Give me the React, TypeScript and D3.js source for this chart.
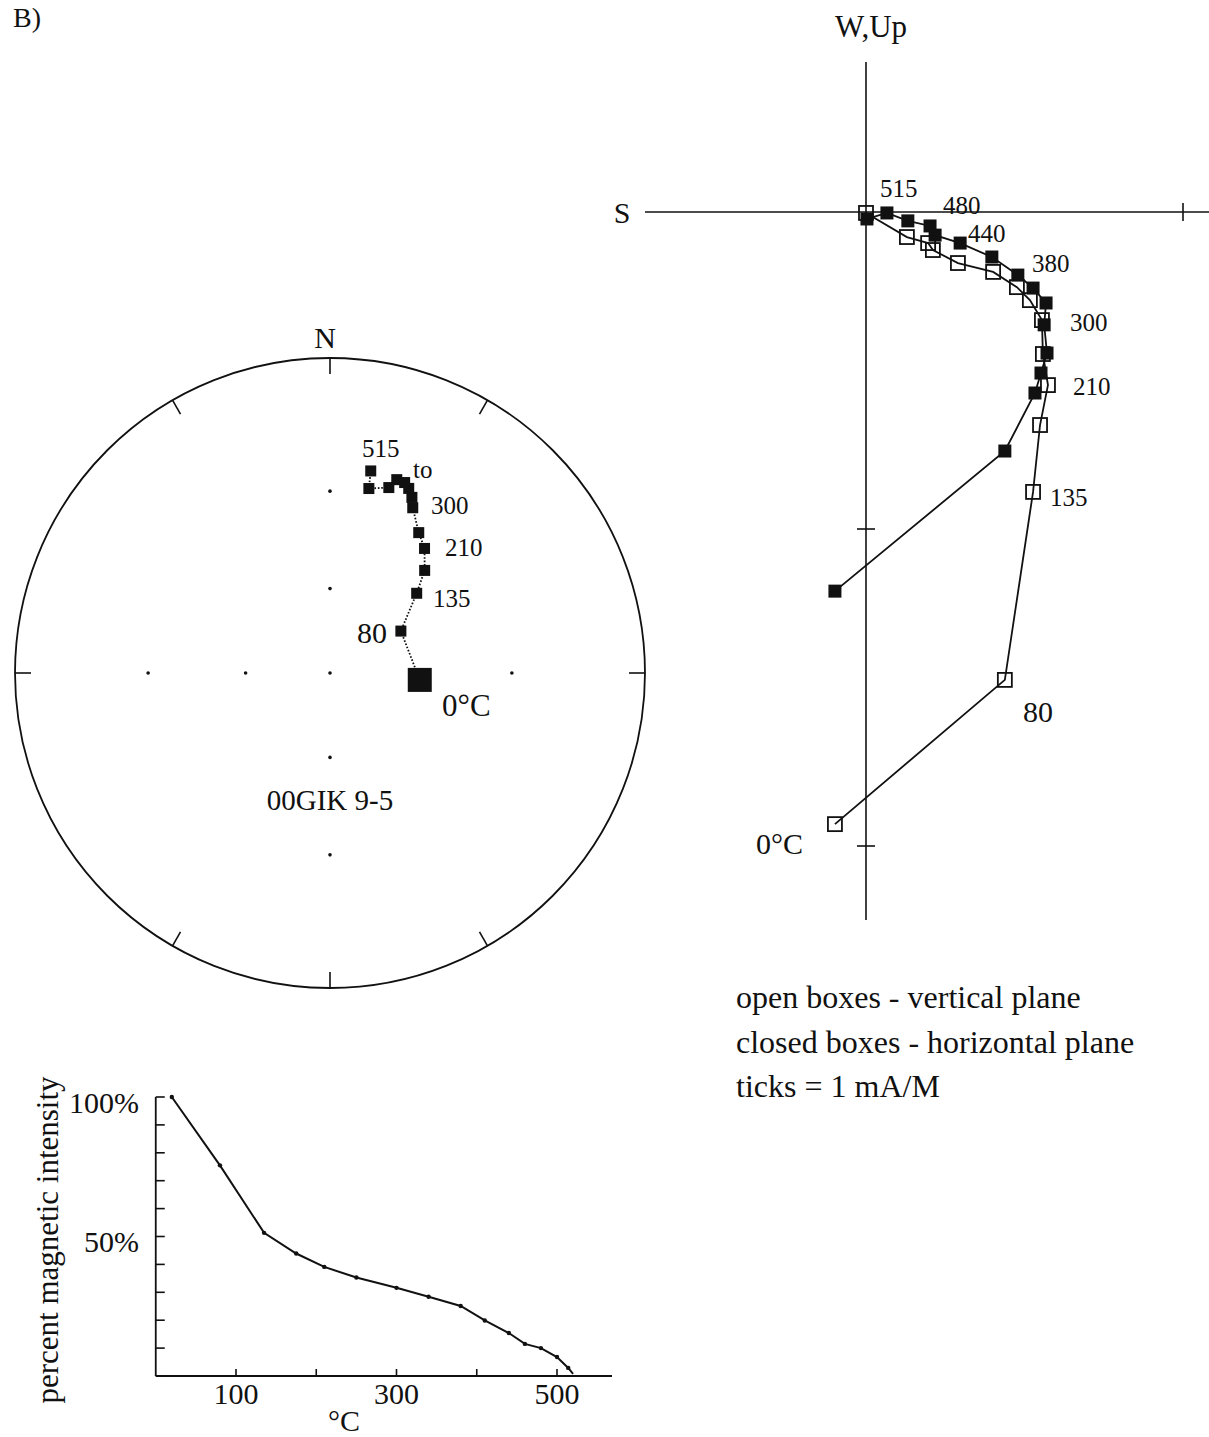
import React from "react";
import * as d3 from "d3";

// ---- Zijderveld diagram data (mA/m) ----
// closed boxes: horizontal plane (North vs West)
const horizNorth = [-0.098, 0.438, 0.533, 0.552, 0.571, 0.562, 0.568, 0.527, 0.479, 0.397, 0.297, 0.218, 0.202, 0.132, 0.066, 0.003];
const horizWest = [-1.196, -0.754, -0.571, -0.508, -0.445, -0.356, -0.287, -0.24, -0.199, -0.142, -0.098, -0.073, -0.044, -0.028, -0.003, -0.022];
// open boxes: vertical plane (North vs Up)
const vertNorth = [-0.098, 0.438, 0.527, 0.549, 0.574, 0.558, 0.555, 0.517, 0.476, 0.401, 0.29, 0.211, 0.196, 0.129, 0.0];
const vertUp = [-1.931, -1.476, -0.883, -0.672, -0.546, -0.448, -0.341, -0.278, -0.237, -0.189, -0.161, -0.12, -0.098, -0.079, -0.003];
const zijNorthTicks = [1];
const zijUpTicks = [-1, -2];

// ---- equal-angle stereonet data (declination, inclination in degrees) ----
const stereoDec = [94.4, 59.4, 47.4, 42.7, 37.2, 32.3, 26.6, 25.0, 23.1, 21.4, 19.05, 17.6, 11.9, 11.4];
const stereoInc = [58.1, 60.7, 49.0, 42.2, 37.2, 34.4, 29.2, 26.8, 25.0, 24.0, 24.0, 26.6, 28.2, 23.6];
const gridDec = [0, 90, 180, 270];
const gridInc = [60, 30];
const rimTicks = [0, 30, 90, 150, 180, 210, 270, 330];

// ---- demagnetisation intensity curve ----
const intTemp = [20, 80, 135, 175, 210, 250, 300, 340, 380, 410, 440, 460, 480, 500, 514, 520];
const intPct = [100, 75.5, 51.3, 43.9, 39.1, 35.3, 31.6, 28.4, 25.1, 19.9, 15.4, 11.5, 10.0, 6.8, 2.9, 0.8];
const tempTicks = [100, 200, 300, 400, 500];
const tempTickLabels = ["100", "", "300", "", "500"];
const pctTicks = [0, 10, 20, 30, 40, 50, 60, 70, 80, 90, 100];
const pctTickLabels: Record<number, string> = { 100: "100%", 50: "50%" };

const FONT = "'Liberation Serif', 'Times New Roman', serif";

function Square({ x, y, s, filled }: { x: number; y: number; s: number; filled: boolean }) {
  return (
    <rect
      x={x - s / 2}
      y={y - s / 2}
      width={s}
      height={s}
      fill={filled ? "#111" : "none"}
      stroke="#111"
      strokeWidth={filled ? 0 : 1.8}
    />
  );
}

function Zijderveld() {
  const x = d3.scaleLinear().domain([0, 1]).range([866, 1183]);
  const y = d3.scaleLinear().domain([0, -1]).range([212, 529]);
  const horiz = horizNorth.map((n, i) => [x(n), y(horizWest[i])] as [number, number]);
  const vert = vertNorth.map((n, i) => [x(n), y(vertUp[i])] as [number, number]);
  const line = d3.line();
  const t = { fontFamily: FONT, fill: "#111" } as const;
  return (
    <g>
      <line x1={645} x2={1209} y1={y(0)} y2={y(0)} stroke="#111" strokeWidth={1.6} />
      <line x1={x(0)} x2={x(0)} y1={62} y2={920} stroke="#111" strokeWidth={1.6} />
      {zijNorthTicks.map((v) => (
        <line key={v} x1={x(v)} x2={x(v)} y1={y(0) - 9} y2={y(0) + 9} stroke="#111" strokeWidth={1.6} />
      ))}
      {zijUpTicks.map((v) => (
        <line key={v} x1={x(0) - 9} x2={x(0) + 9} y1={y(v)} y2={y(v)} stroke="#111" strokeWidth={1.6} />
      ))}
      <path d={line(vert) || ""} fill="none" stroke="#111" strokeWidth={1.8} />
      <path d={line(horiz) || ""} fill="none" stroke="#111" strokeWidth={1.8} />
      {horiz.map(([px, py], i) => (
        <Square key={"h" + i} x={px} y={py} s={13} filled />
      ))}
      {vert.map(([px, py], i) => (
        <Square key={"v" + i} x={px} y={py} s={14} filled={false} />
      ))}
      <text x={622} y={212} fontSize={30} textAnchor="middle" dominantBaseline="central" {...t}>S</text>
      <text x={871} y={26} fontSize={31} textAnchor="middle" dominantBaseline="central" {...t}>W,Up</text>
      <g fontSize={25} dominantBaseline="central" {...t}>
        <text x={880} y={188}>515</text>
        <text x={943} y={205}>480</text>
        <text x={968} y={233}>440</text>
        <text x={1032} y={263}>380</text>
        <text x={1070} y={322}>300</text>
        <text x={1073} y={386}>210</text>
        <text x={1050} y={497}>135</text>
      </g>
      <text x={1023} y={711} fontSize={30} dominantBaseline="central" {...t}>80</text>
      <text x={803} y={843} fontSize={30} textAnchor="end" dominantBaseline="central" {...t}>0°C</text>
      <g fontSize={32} dominantBaseline="central" {...t}>
        <text x={736} y={997}>open boxes - vertical plane</text>
        <text x={736} y={1042}>closed boxes - horizontal plane</text>
        <text x={736} y={1086}>ticks = 1 mA/M</text>
      </g>
    </g>
  );
}

function Stereonet() {
  const cx = 330;
  const cy = 673;
  const R = 315;
  const rad = Math.PI / 180;
  const proj = (dec: number, inc: number): [number, number] => {
    const r = R * Math.tan(((90 - inc) / 2) * rad);
    return [cx + r * Math.sin(dec * rad), cy - r * Math.cos(dec * rad)];
  };
  const pts = stereoDec.map((d, i) => proj(d, stereoInc[i]));
  const grid: [number, number][] = [[cx, cy]];
  gridDec.forEach((d) => gridInc.forEach((inc) => grid.push(proj(d, inc))));
  const t = { fontFamily: FONT, fill: "#111" } as const;
  return (
    <g>
      <circle cx={cx} cy={cy} r={R} fill="none" stroke="#111" strokeWidth={1.8} />
      {rimTicks.map((a) => {
        const s = Math.sin(a * rad);
        const c = Math.cos(a * rad);
        return (
          <line
            key={a}
            x1={cx + R * s}
            y1={cy - R * c}
            x2={cx + (R - 16) * s}
            y2={cy - (R - 16) * c}
            stroke="#111"
            strokeWidth={1.6}
          />
        );
      })}
      {grid.map(([gx, gy], i) => (
        <circle key={i} cx={gx} cy={gy} r={1.8} fill="#111" />
      ))}
      <path d={d3.line()(pts) || ""} fill="none" stroke="#111" strokeWidth={1.8} strokeDasharray="1.6 1.8" />
      {pts.map(([px, py], i) => (
        <Square key={i} x={px} y={py} s={i === 0 ? 24 : 11} filled />
      ))}
      <text x={325} y={337} fontSize={30} textAnchor="middle" dominantBaseline="central" {...t}>N</text>
      <g fontSize={25} dominantBaseline="central" {...t}>
        <text x={362} y={448}>515</text>
        <text x={413} y={469}>to</text>
        <text x={431} y={505}>300</text>
        <text x={445} y={547}>210</text>
        <text x={433} y={598}>135</text>
      </g>
      <text x={387} y={632} fontSize={30} textAnchor="end" dominantBaseline="central" {...t}>80</text>
      <text x={442} y={705} fontSize={31} dominantBaseline="central" {...t}>0°C</text>
      <text x={330} y={800} fontSize={29} textAnchor="middle" dominantBaseline="central" {...t}>00GIK 9-5</text>
    </g>
  );
}

function Intensity() {
  const x = d3.scaleLinear().domain([0, 100]).range([155.75, 236]);
  const y = d3.scaleLinear().domain([0, 100]).range([1376, 1097]);
  const pts = intTemp.map((tv, i) => [x(tv), y(intPct[i])] as [number, number]);
  const t = { fontFamily: FONT, fill: "#111" } as const;
  return (
    <g>
      <line x1={x(0)} x2={612} y1={y(0)} y2={y(0)} stroke="#111" strokeWidth={1.8} />
      <line x1={x(0)} x2={x(0)} y1={y(0)} y2={y(100)} stroke="#111" strokeWidth={1.8} />
      {tempTicks.map((v, i) => (
        <g key={v}>
          <line x1={x(v)} x2={x(v)} y1={y(0)} y2={y(0) - 7} stroke="#111" strokeWidth={1.6} />
          {tempTickLabels[i] && (
            <text x={x(v)} y={1393} fontSize={30} textAnchor="middle" dominantBaseline="central" {...t}>
              {tempTickLabels[i]}
            </text>
          )}
        </g>
      ))}
      {pctTicks.map((v) => (
        <g key={v}>
          <line x1={x(0)} x2={x(0) + 9} y1={y(v)} y2={y(v)} stroke="#111" strokeWidth={1.6} />
          {pctTickLabels[v] && (
            <text x={139} y={y(v) + 5} fontSize={30} textAnchor="end" dominantBaseline="central" {...t}>
              {pctTickLabels[v]}
            </text>
          )}
        </g>
      ))}
      <path d={d3.line()(pts) || ""} fill="none" stroke="#111" strokeWidth={2} />
      {pts.slice(0, -1).map(([px, py], i) => (
        <circle key={i} cx={px} cy={py} r={2.2} fill="#111" />
      ))}
      <text x={344} y={1420} fontSize={30} textAnchor="middle" dominantBaseline="central" {...t}>°C</text>
      <text
        transform="translate(47,1240) rotate(-90)"
        fontSize={31}
        textAnchor="middle"
        dominantBaseline="central"
        {...t}
      >
        percent magnetic intensity
      </text>
    </g>
  );
}

export default function App() {
  return (
    <svg
      width={1209}
      height={1437}
      viewBox="0 0 1209 1437"
      style={{ position: "absolute", left: 0, top: 0, background: "#fff" }}
    >
      <rect width={1209} height={1437} fill="#fff" />
      <text x={13} y={27} fontSize={28} fontFamily={FONT} fill="#111">B)</text>
      <Zijderveld />
      <Stereonet />
      <Intensity />
    </svg>
  );
}
